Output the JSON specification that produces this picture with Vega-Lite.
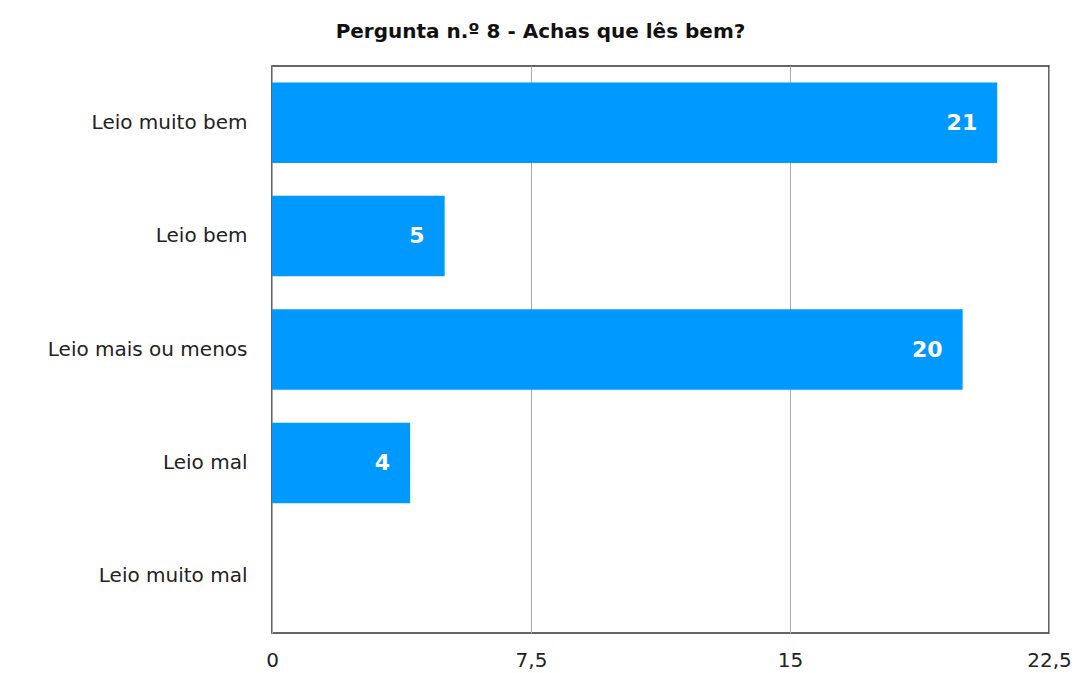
{
  "$schema": "https://vega.github.io/schema/vega-lite/v6.json",
  "autosize": "none",
  "width": 777,
  "height": 567,
  "padding": {"left": 272, "top": 66, "right": 33, "bottom": 40},
  "background": "white",
  "title": {
    "text": "Pergunta n.º 8 - Achas que lês bem?",
    "font": "DejaVu Sans",
    "fontSize": 20,
    "fontWeight": "bold",
    "color": "#111",
    "anchor": "middle",
    "frame": "group",
    "dx": -120,
    "offset": 24
  },
  "config": {
    "view": {"stroke": "#333", "strokeWidth": 1.5},
    "font": "DejaVu Sans"
  },
  "data": {
    "values": [
      {"resposta": "Leio muito bem", "n": 21},
      {"resposta": "Leio bem", "n": 5},
      {"resposta": "Leio mais ou menos", "n": 20},
      {"resposta": "Leio mal", "n": 4},
      {"resposta": "Leio muito mal", "n": 0}
    ]
  },
  "encoding": {
    "y": {
      "field": "resposta",
      "type": "nominal",
      "sort": null,
      "title": null,
      "scale": {"paddingInner": 0.29, "paddingOuter": 0.145},
      "axis": {
        "domain": false,
        "ticks": false,
        "labelFont": "DejaVu Sans",
        "labelFontSize": 20,
        "labelColor": "#222",
        "labelPadding": 25,
        "labelLimit": 300
      }
    },
    "x": {
      "field": "n",
      "type": "quantitative",
      "title": null,
      "scale": {"domain": [0, 22.5], "nice": false},
      "axis": {
        "values": [0, 7.5, 15, 22.5],
        "labelExpr": "replace(format(datum.value, '~g'), '.', ',')",
        "domain": false,
        "ticks": false,
        "grid": true,
        "gridColor": "#aaa",
        "gridWidth": 1,
        "labelFont": "DejaVu Sans",
        "labelFontSize": 20,
        "labelColor": "#222",
        "labelPadding": 17,
        "labelFlush": false
      }
    }
  },
  "layer": [
    {"mark": {"type": "bar", "color": "#0099FF"}},
    {
      "transform": [{"filter": "datum.n > 0"}],
      "mark": {
        "type": "text",
        "align": "right",
        "baseline": "middle",
        "dx": -20,
        "color": "white",
        "fontSize": 22,
        "fontWeight": "bold",
        "font": "DejaVu Sans"
      },
      "encoding": {"text": {"field": "n", "type": "quantitative"}}
    }
  ]
}
